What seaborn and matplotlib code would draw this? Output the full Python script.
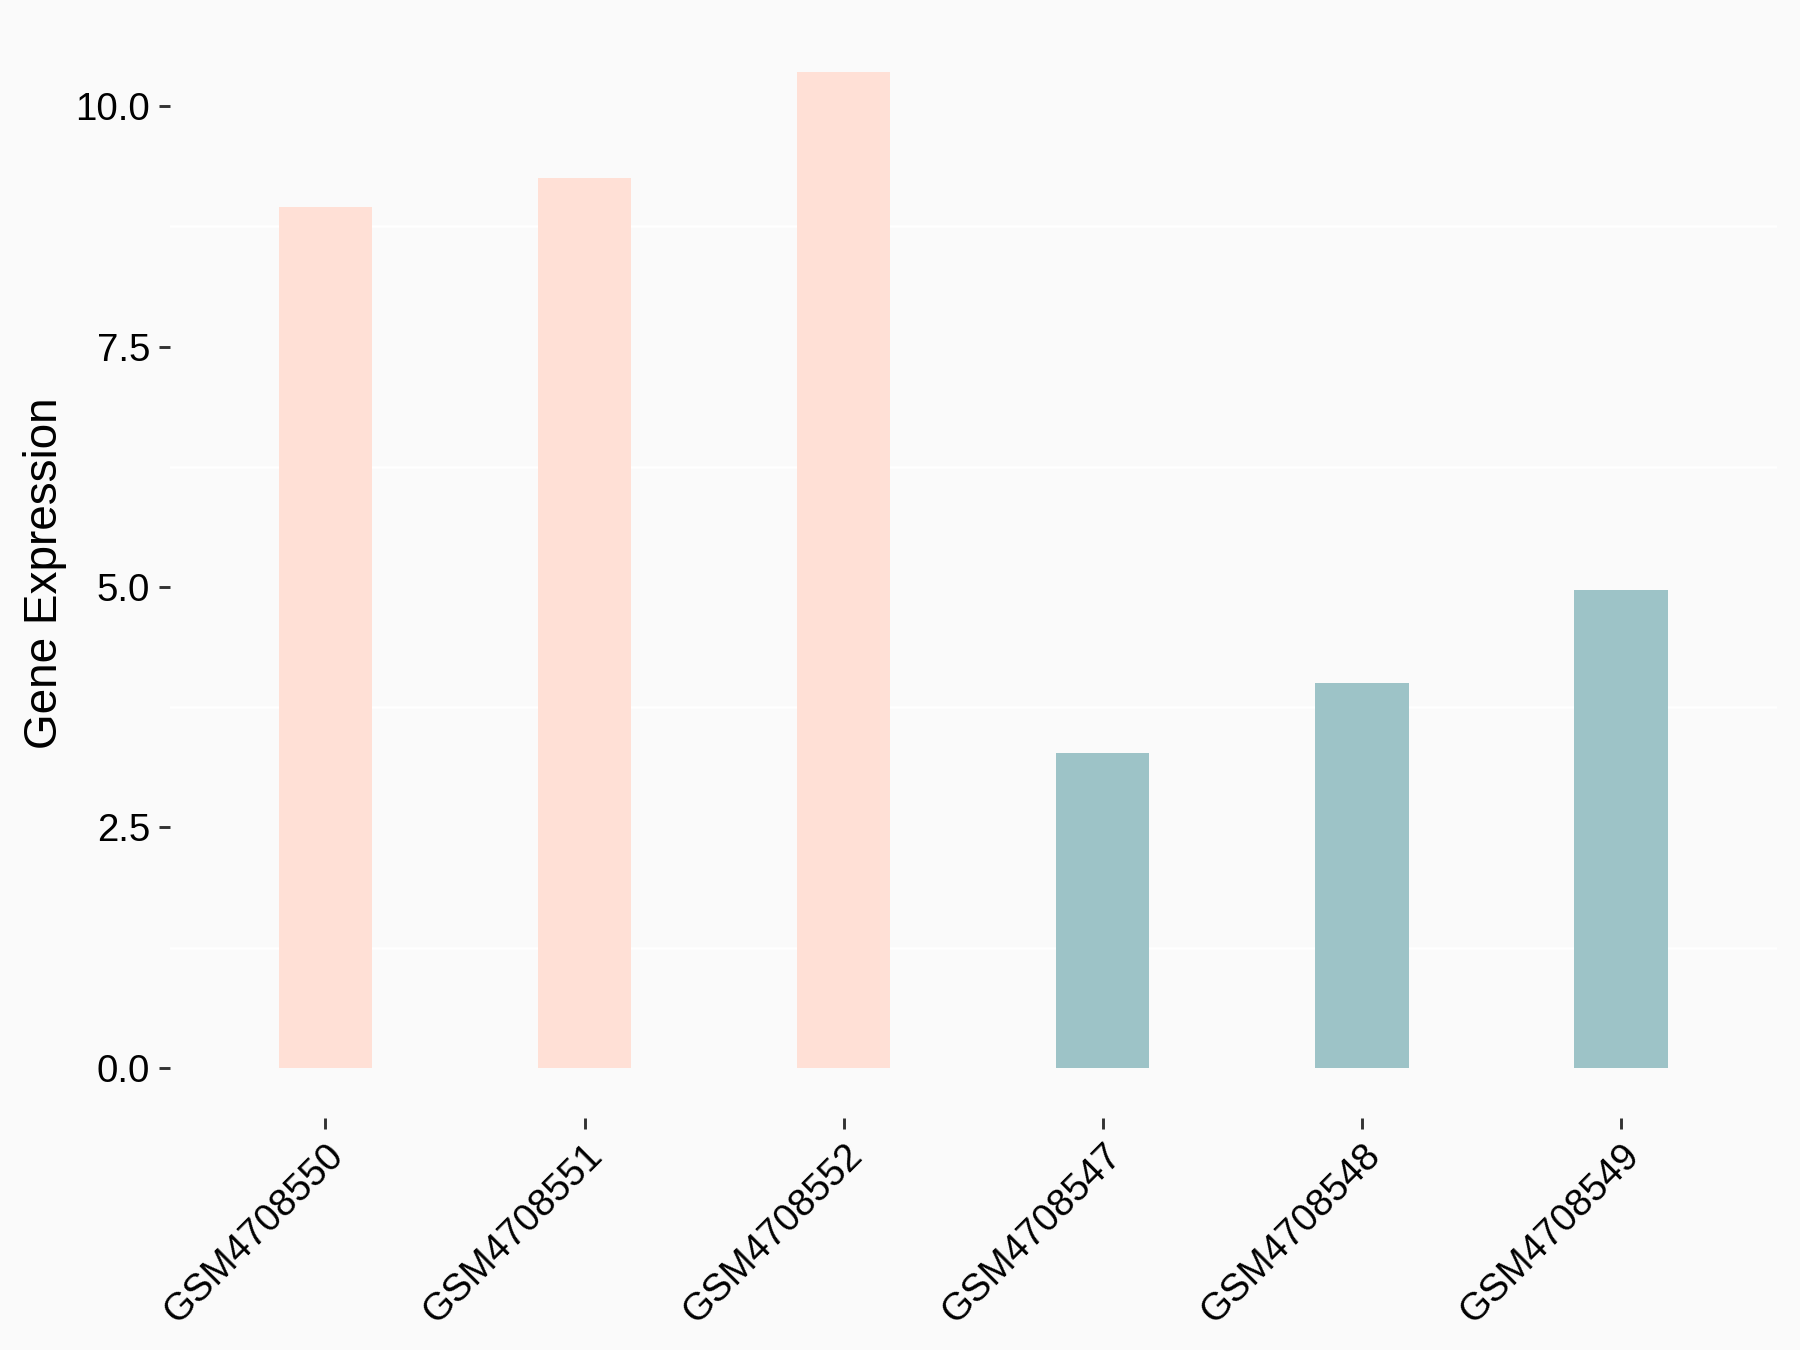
import numpy as np
import pandas as pd
import seaborn as sns
import matplotlib.pyplot as plt

samples = ['GSM4708550', 'GSM4708551', 'GSM4708552',
           'GSM4708547', 'GSM4708548', 'GSM4708549']
expression = [8.95, 9.25, 10.36, 3.27, 4.00, 4.97]
group = ['high', 'high', 'high', 'low', 'low', 'low']
group_colors = {'high': '#FFE0D6', 'low': '#9DC3C7'}
y_ticks = [0.0, 2.5, 5.0, 7.5, 10.0]

df = pd.DataFrame({'sample': samples, 'expression': expression, 'group': group})

sns.set_style('white')
plt.rcParams['font.family'] = ['Liberation Sans', 'DejaVu Sans']

fig, ax = plt.subplots(figsize=(12, 9), dpi=150)
fig.patch.set_facecolor('#FAFAFA')
ax.set_facecolor('#FAFAFA')
fig.subplots_adjust(left=0.0944, right=0.987, top=0.984, bottom=0.172)

sns.barplot(data=df, x='sample', y='expression', hue='group', order=samples,
            palette=group_colors, width=0.36, dodge=False, saturation=1,
            legend=False, ax=ax, zorder=2, linewidth=0, edgecolor='none')

ax.set_xlim(-0.6, len(samples) - 0.4)
ax.set_ylim(-0.52, 10.88)
ax.set_yticks(y_ticks)
ax.set_yticklabels([f'{t:.1f}' for t in y_ticks])
ax.set_yticks([1.25, 3.75, 6.25, 8.75], minor=True)
ax.grid(False)
ax.grid(which='minor', axis='y', color='white', lw=1.2, zorder=0)
ax.set_axisbelow(True)

for s in ax.spines.values():
    s.set_visible(False)

ax.tick_params(axis='both', which='major', length=5.5, width=1.4, color='#333333',
               labelsize=18.5, labelcolor='black', pad=4, left=True, bottom=True)
ax.tick_params(axis='y', which='minor', length=0)
plt.setp(ax.get_xticklabels(), rotation=45, ha='right', rotation_mode='anchor')

ax.set_xlabel('')
ax.set_ylabel('Gene Expression', fontsize=22, color='black')
ax.yaxis.set_label_coords(-0.064, 0.497)

fig.savefig('out.png', dpi=150, facecolor=fig.get_facecolor())
